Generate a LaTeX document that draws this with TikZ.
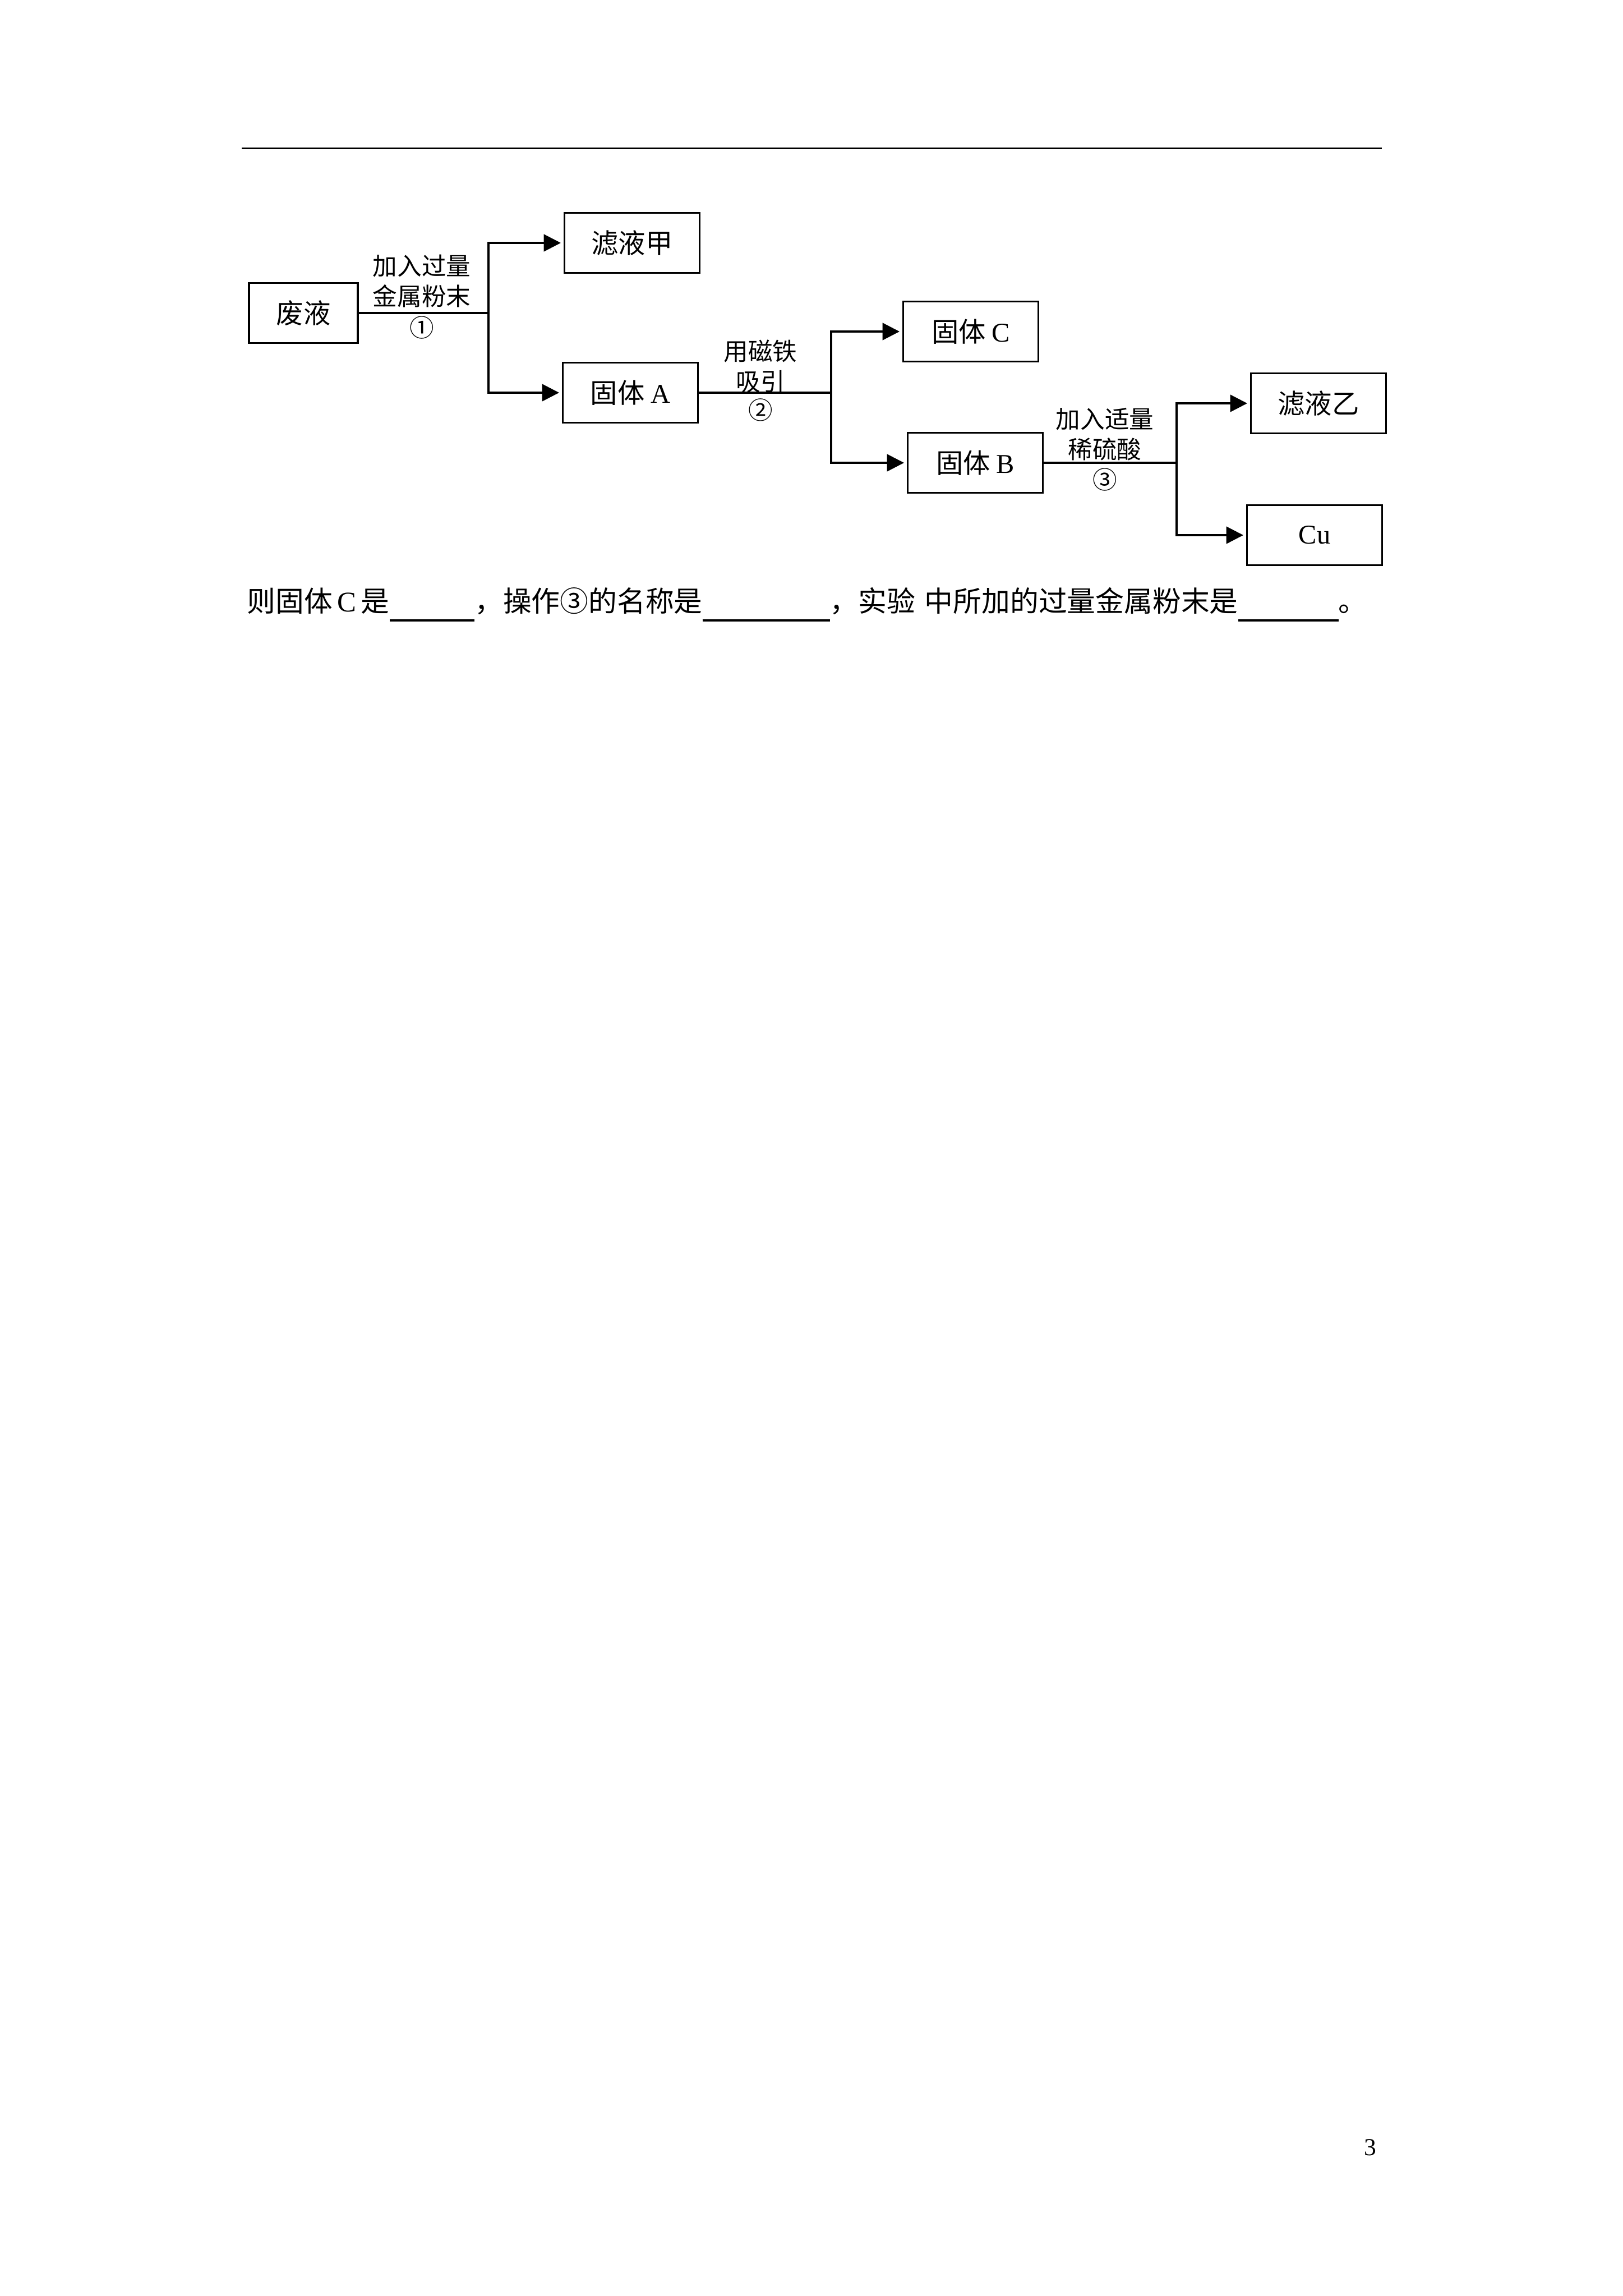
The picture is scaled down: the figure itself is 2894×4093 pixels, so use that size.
\documentclass[tikz,border=0pt]{standalone}
\usepackage{fontspec}
\setmainfont{Liberation Serif}
\newfontfamily\cjk{Noto Sans CJK SC}
\usetikzlibrary{arrows.meta}
\newcommand\blank[1]{\rule[-0.35em]{#1}{0.7pt}}

\begin{document}
\begin{tikzpicture}[x=0.007256cm,y=-0.007256cm,line width=0.7pt,
  box/.style={draw,minimum width=1.75cm,minimum height=0.776cm,inner sep=0pt,font=\fontsize{10}{12}\cjk},
  op/.style={font=\fontsize{9}{11.1}\cjk,align=center,inner sep=0pt},
  arr/.style={-{Triangle[length=2.2mm,width=2.2mm]},shorten >=1pt}]
\useasboundingbox (0,0) rectangle (2894,4093);
\draw[line width=0.62pt] (431,264) -- (2464,264);

\node[box,minimum width=1.408cm] (waste) at (541,558) {废液};
\node[box] (filtA) at (1127,433) {滤液甲};
\node[box] (solidA) at (1124,700) {固体 {\rmfamily A}};
\node[box] (solidC) at (1731,591) {固体 {\rmfamily C}};
\node[box] (solidB) at (1739,825) {固体 {\rmfamily B}};
\node[box] (filtB) at (2351,719) {滤液乙};
\node[box] (cu) at (2344,954) {\rmfamily Cu};

\coordinate (j1) at (871,558);
\coordinate (j2) at (1482,700);
\coordinate (j3) at (2098,825);
\draw (waste) -- (j1);
\draw[arr] (j1) |- (filtA);
\draw[arr] (j1) |- (solidA);
\draw (solidA) -- (j2);
\draw[arr] (j2) |- (solidC);
\draw[arr] (j2) |- (solidB);
\draw (solidB) -- (j3);
\draw[arr] (j3) |- (filtB);
\draw[arr] (j3) |- (cu);

\node[op] (op1) at (752,501) {加入过量\\金属粉末};
\node[op] (n1) at (752,584) {①};
\node[op] (op2) at (1356,653) {用磁铁\\吸引};
\node[op] (n2) at (1356,731) {②};
\node[op] (op3) at (1970,774) {加入适量\\稀硫酸};
\node[op] (n3) at (1970,855) {③};

\node[anchor=base west,inner sep=0pt,font=\fontsize{10.5}{12}\cjk] (ask) at (439,1090)
  {则固体\,{\rmfamily C}\,是\blank{1.1cm}，操作③的名称是\blank{1.65cm}，实验\hspace{0.12cm}中所加的过量金属粉末是\blank{1.3cm}。};
\node[font=\fontsize{9}{10}\selectfont] (page) at (2443,3828) {3};
\end{tikzpicture}
\end{document}
